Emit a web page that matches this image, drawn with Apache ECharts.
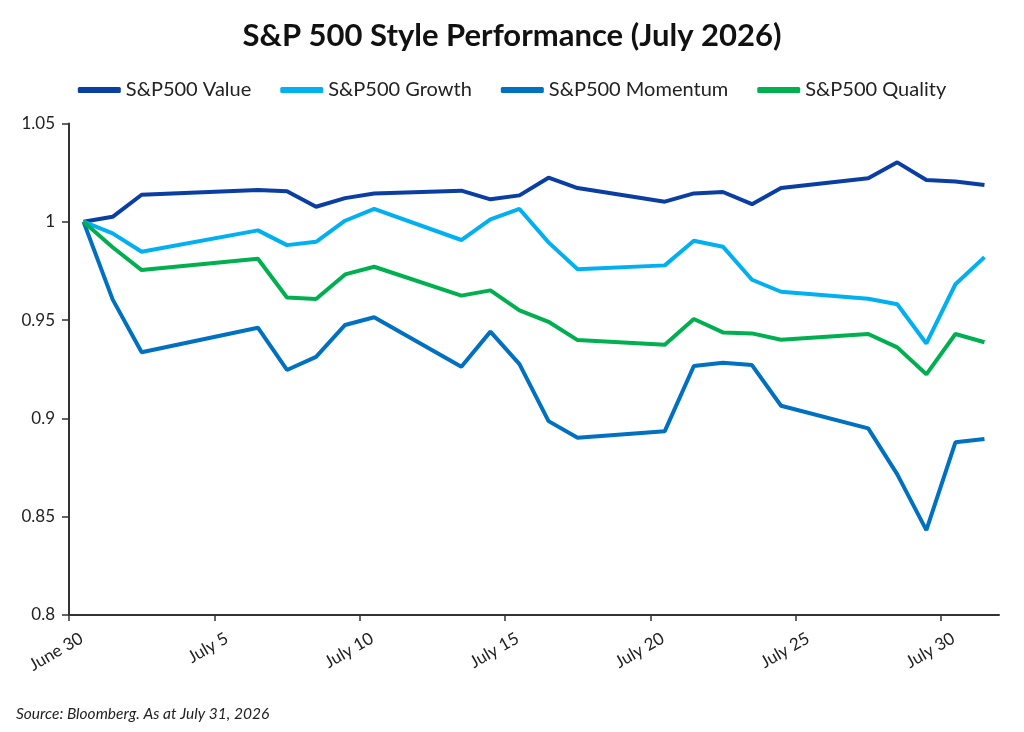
<!DOCTYPE html>
<html>
<head>
<meta charset="utf-8">
<script src="https://cdn.jsdelivr.net/npm/echarts@6/dist/echarts.min.js"></script>
<style>
    html, body {margin: 0; padding: 0; background: #fff;}
    #chart {width: 1024px; height: 732px;}
</style>
</head>
<body>
<div id="chart"></div>
<script>
// trading days in July 2026 (July 3 market holiday)
const dates = ['2026-06-30', '2026-07-01', '2026-07-02', '2026-07-06', '2026-07-07', '2026-07-08',
    '2026-07-09', '2026-07-10', '2026-07-13', '2026-07-14', '2026-07-15', '2026-07-16', '2026-07-17',
    '2026-07-20', '2026-07-21', '2026-07-22', '2026-07-23', '2026-07-24', '2026-07-27', '2026-07-28',
    '2026-07-29', '2026-07-30', '2026-07-31'];

const valueSeries = [1.000, 1.0025, 1.0137, 1.0161, 1.0155, 1.0076, 1.0120, 1.0143, 1.0158, 1.0114,
    1.0134, 1.0224, 1.0171, 1.0102, 1.0144, 1.0151, 1.0089, 1.0171, 1.0221, 1.0302, 1.0212, 1.0205, 1.0187];
const growthSeries = [1.000, 0.9941, 0.9847, 0.9956, 0.9881, 0.9898, 1.0005, 1.0065, 0.9907, 1.0012,
    1.0065, 0.9895, 0.9758, 0.9778, 0.9903, 0.9873, 0.9705, 0.9644, 0.9608, 0.9580, 0.9381, 0.9682, 0.9820];
const momentumSeries = [1.000, 0.9605, 0.9336, 0.9461, 0.9246, 0.9313, 0.9475, 0.9514, 0.9262, 0.9441,
    0.9276, 0.8986, 0.8901, 0.8935, 0.9266, 0.9283, 0.9271, 0.9064, 0.8949, 0.8715, 0.8432, 0.8878, 0.8895];
const qualitySeries = [1.000, 0.9870, 0.9754, 0.9812, 0.9615, 0.9607, 0.9732, 0.9771, 0.9624, 0.9651,
    0.9549, 0.9491, 0.9398, 0.9374, 0.9505, 0.9437, 0.9432, 0.9400, 0.9429, 0.9361, 0.9224, 0.9429, 0.9387];

const seriesNames = ['S&P500 Value', 'S&P500 Growth', 'S&P500 Momentum', 'S&P500 Quality'];
const tickDates = ['2026-06-30', '2026-07-05', '2026-07-10', '2026-07-15', '2026-07-20', '2026-07-25', '2026-07-30'];
const tickLabels = ['June 30', 'July 5', 'July 10', 'July 15', 'July 20', 'July 25', 'July 30'];

const colors = ['#0a3ea3', '#00b0f0', '#0070c0', '#00b050'];
const font = 'Lato';
const DAY = 86400000;

const tickValues = tickDates.map(function (d) { return Date.parse(d); });
// rotated labels sit a little right of their tick (end of text past the tick)
const labelValues = tickValues.map(function (v) { return v + 0.43 * DAY; });

function toPoints(values) {
    // points plotted at mid-day of each session
    return values.map(function (v, i) {
        return [Date.parse(dates[i]) + DAY / 2, v];
    });
}

const chart = echarts.init(document.getElementById('chart'));
const allValues = [valueSeries, growthSeries, momentumSeries, qualitySeries];

const option = {
    animation: false,
    color: colors,
    title: {
        text: 'S&P 500 Style Performance (July 2026)',
        left: 'center',
        top: 15,
        textStyle: {fontFamily: font, fontSize: 31, fontWeight: 'bold', color: '#111'}
    },
    legend: {
        top: 75,
        left: 'center',
        icon: 'roundRect',
        itemWidth: 43,
        itemHeight: 6,
        itemGap: 29,
        textStyle: {fontFamily: font, fontSize: 20, color: '#222'},
        data: seriesNames
    },
    grid: {left: 69, right: 25, top: 123.4, bottom: 117, containLabel: false},
    xAxis: {
        type: 'value',
        min: Date.parse('2026-06-30'),
        max: Date.parse('2026-08-01'),
        splitLine: {show: false},
        axisLine: {lineStyle: {color: '#333', width: 2}},
        axisTick: {show: true, length: 6, lineStyle: {color: '#333', width: 1.5}, customValues: tickValues},
        axisLabel: {
            customValues: labelValues,
            rotate: 30,
            margin: 22,
            fontFamily: font,
            fontSize: 17,
            color: '#222',
            formatter: function (val) {
                const i = labelValues.indexOf(val);
                return i >= 0 ? tickLabels[i] : '';
            }
        }
    },
    yAxis: {
        type: 'value',
        min: 0.8,
        max: 1.05,
        interval: 0.05,
        splitLine: {show: false},
        axisLine: {show: true, lineStyle: {color: '#333', width: 2}},
        axisTick: {show: true, length: 7, lineStyle: {color: '#333', width: 1.5}},
        axisLabel: {fontFamily: font, fontSize: 17, color: '#222', margin: 14}
    },
    graphic: [{
        type: 'text',
        left: 16,
        top: 706,
        style: {
            text: 'Source: Bloomberg. As at July 31, 2026',
            font: 'italic 15.5px ' + font,
            fill: '#222'
        }
    }],
    series: seriesNames.map(function (name, i) {
        return {
            name: name,
            type: 'line',
            showSymbol: false,
            symbol: 'none',
            lineStyle: {width: 4},
            data: toPoints(allValues[i])
        };
    })
};

chart.setOption(option);
</script>
</body>
</html>
